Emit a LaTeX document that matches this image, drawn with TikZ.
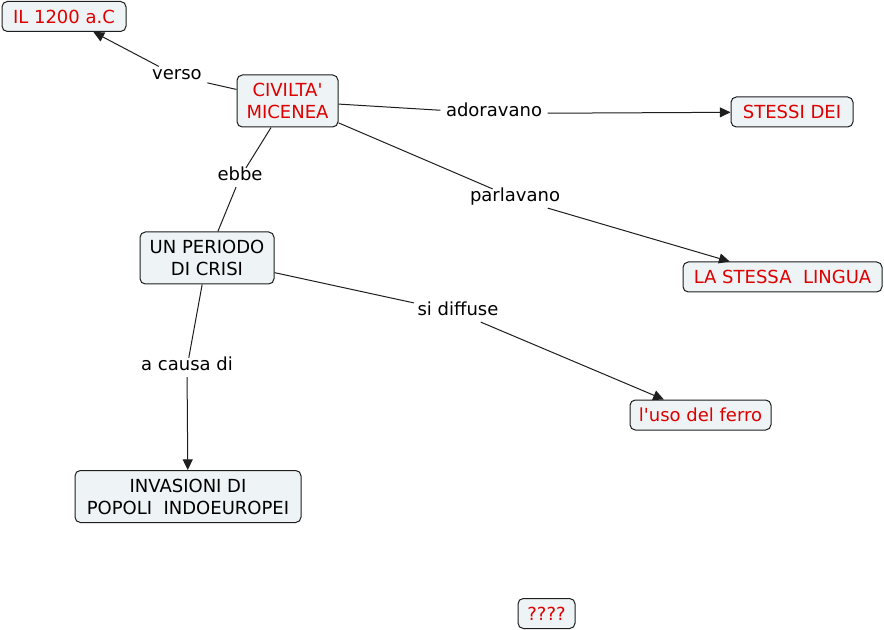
\documentclass[tikz,border=0pt]{standalone}
\usepackage{fontspec}
\setmainfont{DejaVu Sans}
\usetikzlibrary{arrows.meta}
\definecolor{mapFill}{RGB}{238,243,245}
\definecolor{mapLine}{RGB}{30,30,30}
\definecolor{mapRed}{RGB}{222,0,0}
\tikzset{
  concept/.style={rectangle, draw=mapLine, fill=mapFill, line width=0.75pt,
    rounded corners=4pt, minimum height=22.5pt, align=center, inner sep=2pt,
    font=\fontsize{13.5}{16.5}\selectfont},
  concepttwo/.style={concept, minimum height=39pt},
  redconcept/.style={concept, text=mapRed},
  linkword/.style={fill=white, inner xsep=4pt, inner ysep=2pt, text height=0.75em,
    text depth=0.25em, font=\fontsize{13.5}{16}\selectfont},
  linkline/.style={draw=mapLine, line width=0.75pt},
  linkarrow/.style={linkline, -{Triangle[length=8pt,width=7.5pt]}},
}
\begin{document}
\begin{tikzpicture}[x=0.75pt, y=-0.75pt]
  \useasboundingbox[fill=white] (0,0) rectangle (884,630);

  % concepts
  \node[redconcept, minimum width=93pt] (il) at (64,16.5) {IL 1200 a.C};
  \node[redconcept, concepttwo, minimum width=75.75pt] (civ) at (287.5,101) {CIVILTA\textquotesingle\\MICENEA};
  \node[redconcept, minimum width=91.5pt] (dei) at (792,112) {STESSI DEI};
  \node[concept, concepttwo, minimum width=100.5pt] (crisi) at (207,258) {UN PERIODO\\DI CRISI};
  \node[redconcept, minimum width=149.25pt] (lingua) at (782.5,277) {LA STESSA~~LINGUA};
  \node[redconcept, minimum width=105.75pt] (ferro) at (700.5,415) {l\textquotesingle uso del ferro};
  \node[concept, concepttwo, minimum width=169.5pt] (invasioni) at (188,496.5) {INVASIONI DI\\POPOLI~~INDOEUROPEI};
  \node[redconcept, minimum width=42.75pt] (dubbio) at (546.5,613.5) {????};

  % linking words
  \node[linkword] (verso) at (177,76) {verso};
  \node[linkword] (adoravano) at (494,113.5) {adoravano};
  \node[linkword] (ebbe) at (240,177.5) {ebbe};
  \node[linkword] (parlavano) at (515,198.5) {parlavano};
  \node[linkword] (diffuse) at (458,312.5) {si diffuse};
  \node[linkword] (causa) at (187,367.5) {a causa di};

  % connections
  \draw[linkline] (civ) -- (verso);
  \draw[linkarrow] (verso) -- (il);
  \draw[linkline] (civ) -- (adoravano);
  \draw[linkarrow] (adoravano) -- (dei);
  \draw[linkline] (civ) -- (ebbe);
  \draw[linkline] (ebbe) -- (crisi);
  \draw[linkline] (civ) -- (parlavano);
  \draw[linkarrow] (parlavano) -- (lingua);
  \draw[linkline] (crisi) -- (diffuse);
  \draw[linkarrow] (diffuse) -- (ferro);
  \draw[linkline] (crisi) -- (causa);
  \draw[linkarrow] (causa) -- (invasioni);
\end{tikzpicture}
\end{document}
